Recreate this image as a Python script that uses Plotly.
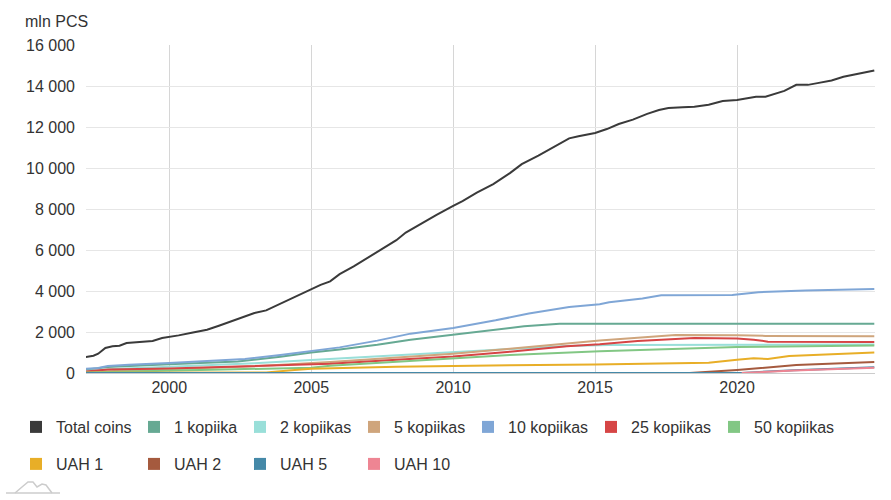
import plotly.graph_objects as go

# ---------------- data ----------------
total_dates = ["1997-01", "1997-05", "1997-07", "1997-10", "1998-01", "1998-04", "1998-07", "1998-11",
               "1999-06", "1999-10", "2000-01", "2000-05", "2000-11", "2001-05", "2001-10", "2002-02",
               "2002-06", "2003-01", "2003-06", "2004-02", "2004-07", "2005-01", "2005-05", "2005-09",
               "2006-01", "2006-07", "2007-01", "2007-06", "2008-01", "2008-05", "2009-01", "2009-06",
               "2010-01", "2010-05", "2010-11", "2011-06", "2012-01", "2012-06", "2013-01", "2013-06",
               "2013-10", "2014-02", "2014-06", "2015-01", "2015-06", "2015-11", "2016-05", "2016-11",
               "2017-04", "2017-08", "2018-02", "2018-07", "2019-01", "2019-07", "2020-01", "2020-05",
               "2020-09", "2021-01", "2021-05", "2021-09", "2022-02", "2022-07", "2022-11", "2023-05",
               "2023-10", "2024-04", "2024-11"]
total_values = [760, 845, 940, 1220, 1300, 1330, 1460, 1495,
                1560, 1705, 1755, 1835, 1980, 2110, 2305, 2470,
                2600, 2925, 3055, 3490, 3735, 4060, 4300, 4470,
                4820, 5200, 5620, 5950, 6480, 6850, 7400, 7710,
                8150, 8390, 8800, 9210, 9750, 10190, 10600, 10920,
                11215, 11445, 11545, 11705, 11900, 12145, 12360, 12640,
                12830, 12930, 12960, 12990, 13090, 13270, 13320, 13400,
                13480, 13480, 13600, 13760, 14055, 14055, 14140, 14270,
                14450, 14580, 14760]

k1_dates = ["1997-01", "1997-11", "2000-01", "2002-06", "2003-12", "2005-01", "2006-01", "2007-05",
            "2008-07", "2010-01", "2011-07", "2012-07", "2013-10", "2024-11"]
k1_values = [150, 290, 430, 560, 790, 1000, 1150, 1380, 1625, 1870, 2110, 2275, 2405, 2405]

k2_dates = ["1997-01", "1998-01", "2000-01", "2003-01", "2005-01", "2005-09", "2008-01", "2010-01",
            "2012-01", "2014-01", "2015-07", "2018-01", "2020-01", "2024-11"]
k2_values = [90, 200, 300, 480, 640, 690, 850, 1005, 1180, 1320, 1365, 1370, 1370, 1390]

k5_dates = ["1997-01", "2000-01", "2003-01", "2005-09", "2008-01", "2010-01", "2012-01", "2014-01",
            "2015-03", "2016-07", "2017-11", "2020-01", "2021-01", "2024-11"]
k5_values = [40, 190, 330, 540, 760, 940, 1180, 1430, 1590, 1720, 1855, 1840, 1810, 1790]

k10_dates = ["1997-01", "1997-07", "1997-11", "1998-08", "2000-01", "2001-07", "2002-09", "2003-12",
             "2005-01", "2006-01", "2007-05", "2008-07", "2010-01", "2011-07", "2012-09", "2014-02",
             "2015-03", "2015-07", "2016-09", "2017-05", "2019-11", "2020-10", "2022-06", "2024-11"]
k10_values = [195, 245, 340, 405, 487, 600, 683, 880,
              1070, 1250, 1580, 1920, 2200, 2570, 2900, 3220,
              3350, 3450, 3630, 3790, 3810, 3940, 4020, 4100]

k25_dates = ["1997-01", "1997-11", "2000-01", "2003-01", "2005-09", "2008-01", "2010-01", "2012-01",
             "2014-01", "2015-03", "2016-07", "2018-07", "2020-01", "2020-08", "2021-02", "2024-11"]
k25_values = [60, 170, 220, 330, 455, 650, 810, 1040, 1300, 1400, 1560, 1710, 1680, 1625, 1530, 1510]

k50_dates = ["1997-01", "2000-01", "2003-01", "2005-01", "2005-09", "2008-01", "2010-01", "2012-01",
             "2015-03", "2017-11", "2020-01", "2024-11"]
k50_values = [20, 110, 230, 260, 355, 560, 730, 880, 1055, 1190, 1270, 1345]

uah1_dates = ["1997-01", "2002-06", "2003-06", "2004-06", "2005-01", "2008-01", "2010-01", "2012-01",
              "2015-01", "2017-11", "2019-01", "2020-01", "2020-08", "2021-02", "2021-11", "2024-11"]
uah1_values = [15, 25, 30, 150, 210, 300, 350, 380, 420, 455, 500, 650, 715, 680, 830, 1005]

uah2_dates = ["2018-05", "2018-10", "2020-01", "2022-02", "2024-11"]
uah2_values = [0, 30, 145, 390, 535]

uah5_dates = ["1997-01", "2020-03", "2022-01", "2024-11"]
uah5_values = [0, 5, 140, 285]

uah10_dates = ["2020-03", "2022-01", "2024-11"]
uah10_values = [0, 120, 260]

series_names = ["Total coins", "1 kopiika", "2 kopiikas", "5 kopiikas", "10 kopiikas", "25 kopiikas",
                "50 kopiikas", "UAH 1", "UAH 2", "UAH 5", "UAH 10"]
series_dates = [total_dates, k1_dates, k2_dates, k5_dates, k10_dates, k25_dates,
                k50_dates, uah1_dates, uah2_dates, uah5_dates, uah10_dates]
series_values = [total_values, k1_values, k2_values, k5_values, k10_values, k25_values,
                 k50_values, uah1_values, uah2_values, uah5_values, uah10_values]

y_tickvals = [0, 2000, 4000, 6000, 8000, 10000, 12000, 14000, 16000]

# ---------------- styling ----------------
colors = ["#3a3a3a", "#66a993", "#99dfd9", "#cfa57c", "#7fa6d6", "#d64545",
          "#82c784", "#e8ae27", "#a55a3e", "#4589a8", "#ee8593"]

W, H = 891, 500
ML, MR, MT, MB = 86, 16, 45, 127
PW, PH = W - ML - MR, H - MT - MB


def px_x(x):
    return (x - ML) / PW


def px_y(y):
    return (H - MB - y) / PH


FONT = "Liberation Sans, Arial, sans-serif"
TXT = "#333333"

fig = go.Figure()

for name, d, v, c in zip(series_names, series_dates, series_values, colors):
    fig.add_trace(go.Scatter(x=d, y=v, mode="lines", name=name,
                             line=dict(color=c, width=2), showlegend=False,
                             hovertemplate="%{y:,.0f}<extra>" + name + "</extra>"))

# legend entries (square swatches), one small legend per entry laid out as a grid
col_centers = [41, 159, 265, 379, 493, 616, 739]
row_centers = [427, 464]
layout_legends = {}
for i, (name, c) in enumerate(zip(series_names, colors)):
    row, col = (0, i) if i < 7 else (1, i - 7)
    key = "legend" if i == 0 else f"legend{i + 1}"
    fig.add_trace(go.Scatter(x=[None], y=[None], mode="markers", name=name,
                             marker=dict(symbol="square", size=12, color=c),
                             legend=key, showlegend=True))
    layout_legends[key] = dict(
        x=px_x(col_centers[col] - 25), xanchor="left",
        y=px_y(row_centers[row]), yanchor="middle",
        orientation="h", bgcolor="rgba(0,0,0,0)",
        font=dict(family=FONT, size=16, color=TXT),
    )

# small watermark logo bottom-left
pts = [(15, 493), (22, 487), (28, 482), (33, 482), (37, 487), (42, 484), (46, 485), (52, 493)]
path = "M " + " L ".join(f"{px_x(a)},{px_y(b)}" for a, b in pts)
fig.add_shape(type="path", path=path, xref="paper", yref="paper",
              line=dict(color="#cccccc", width=1.5))
fig.add_shape(type="line", xref="paper", yref="paper",
              x0=px_x(6), x1=px_x(60), y0=px_y(493), y1=px_y(493),
              line=dict(color="#cccccc", width=1.5))

fig.update_layout(
    width=W, height=H,
    margin=dict(l=ML, r=MR, t=MT, b=MB),
    paper_bgcolor="white", plot_bgcolor="white",
    separators=". ",
    font=dict(family=FONT, size=16, color=TXT),
    title=dict(text="mln PCS", x=25 / W, xanchor="left", xref="container",
               y=1 - 21 / H, yanchor="middle", yref="container",
               font=dict(family=FONT, size=16, color=TXT)),
    hovermode="x unified",
    **layout_legends,
)

fig.update_xaxes(
    type="date", range=["1997-01-25", "2024-11-10"],
    tick0="2000-01-01", dtick="M60", tickformat="%Y",
    showgrid=True, gridcolor="#d6d6d6", gridwidth=1,
    showline=True, linecolor="#cccccc", linewidth=1,
    ticks="", zeroline=False,
    tickfont=dict(family=FONT, size=16, color=TXT),
)
fig.update_yaxes(
    range=[0, 16000], tickvals=y_tickvals, tickformat=",d",
    showgrid=True, gridcolor="#e6e6e6", gridwidth=1,
    zeroline=False, showline=False, ticks="",
    ticklabelstandoff=10,
    tickfont=dict(family=FONT, size=16, color=TXT),
)

fig.write_html("out.html", config={"displayModeBar": False},
               post_script="document.body.style.margin='0';document.body.style.padding='0';")
